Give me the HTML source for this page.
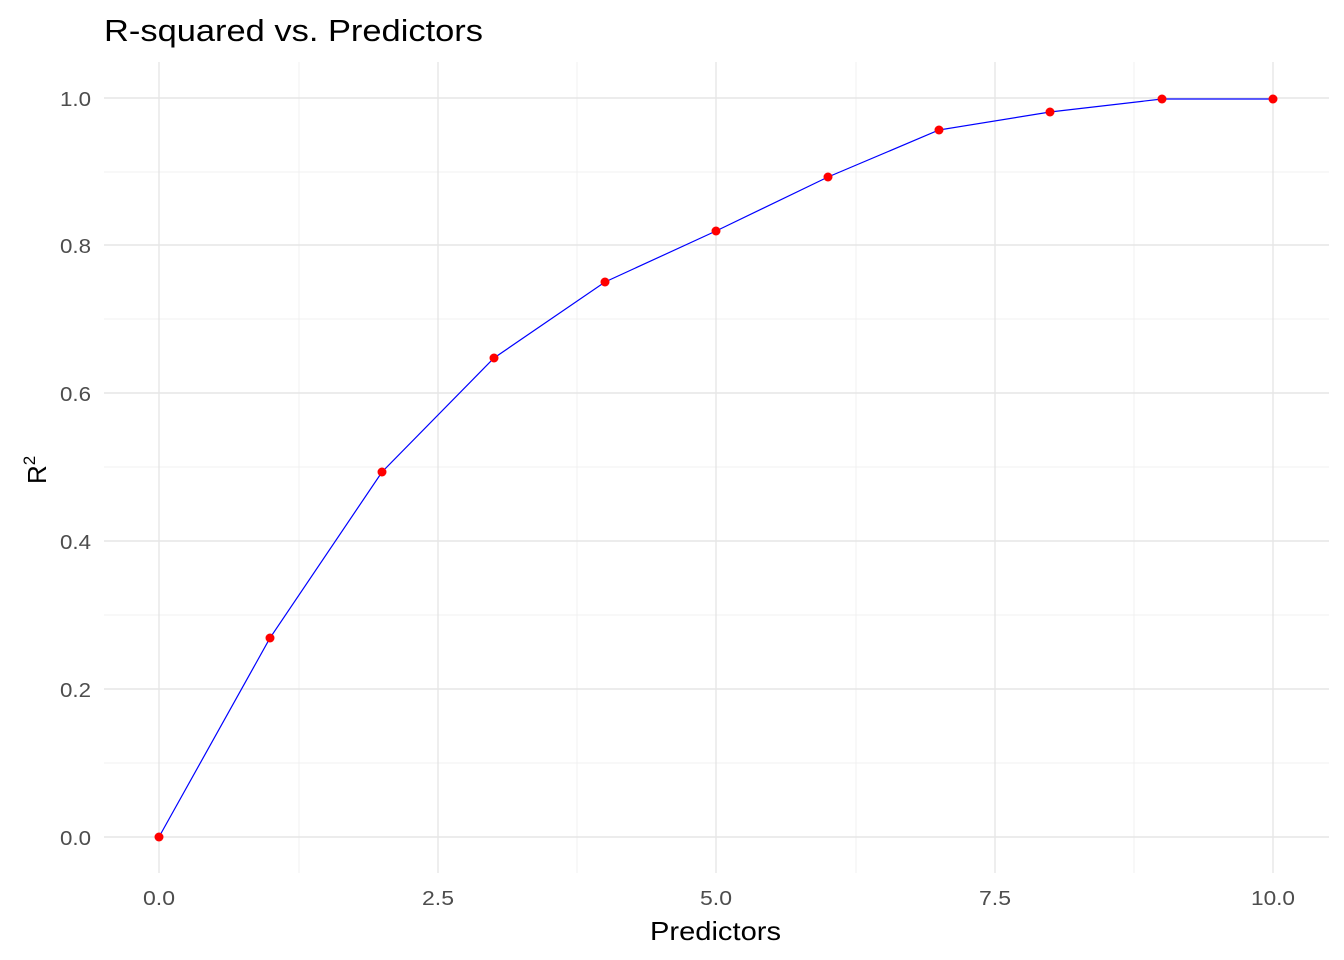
<!DOCTYPE html>
<html><head><meta charset="utf-8"><style>
html,body{margin:0;padding:0;background:#fff;}
svg{display:block;font-family:"Liberation Sans",Arial,sans-serif;}
</style></head><body>
<svg width="1344" height="960" viewBox="0 0 1344 960" xmlns="http://www.w3.org/2000/svg">
<rect width="1344" height="960" fill="#fff"/>
<g stroke="#f0f0f0" stroke-width="1">
<line x1="299" y1="62" x2="299" y2="873"/><line x1="577" y1="62" x2="577" y2="873"/>
<line x1="856" y1="62" x2="856" y2="873"/><line x1="1134" y1="62" x2="1134" y2="873"/>
<line x1="104" y1="763" x2="1329" y2="763"/><line x1="104" y1="615" x2="1329" y2="615"/>
<line x1="104" y1="467" x2="1329" y2="467"/><line x1="104" y1="319" x2="1329" y2="319"/>
<line x1="104" y1="172" x2="1329" y2="172"/>
</g>
<g stroke="#e6e6e6" stroke-width="1.4">
<line x1="159" y1="62" x2="159" y2="873"/><line x1="438" y1="62" x2="438" y2="873"/>
<line x1="716" y1="62" x2="716" y2="873"/><line x1="995" y1="62" x2="995" y2="873"/>
<line x1="1273" y1="62" x2="1273" y2="873"/>
<line x1="104" y1="837" x2="1329" y2="837"/><line x1="104" y1="689" x2="1329" y2="689"/>
<line x1="104" y1="541" x2="1329" y2="541"/><line x1="104" y1="393" x2="1329" y2="393"/>
<line x1="104" y1="245" x2="1329" y2="245"/><line x1="104" y1="98" x2="1329" y2="98"/>
</g>
<polyline fill="none" stroke="#0000ff" stroke-width="1.2" points="159,837 270,638 382,472 494,358 605,282 716,231 828,177 939,130 1050,112 1162,99 1273,99"/>
<g fill="#ff0000">
<circle cx="159" cy="837" r="4.5"/><circle cx="270" cy="638" r="4.5"/><circle cx="382" cy="472" r="4.5"/>
<circle cx="494" cy="358" r="4.5"/><circle cx="605" cy="282" r="4.5"/><circle cx="716" cy="231" r="4.5"/>
<circle cx="828" cy="177" r="4.5"/><circle cx="939" cy="130" r="4.5"/><circle cx="1050" cy="112" r="4.5"/>
<circle cx="1162" cy="99" r="4.5"/><circle cx="1273" cy="99" r="4.5"/>
</g>
<g fill="#4d4d4d" font-size="20">
<text x="60" y="845" textLength="31" lengthAdjust="spacingAndGlyphs">0.0</text>
<text x="60" y="697" textLength="31" lengthAdjust="spacingAndGlyphs">0.2</text>
<text x="60" y="549" textLength="31" lengthAdjust="spacingAndGlyphs">0.4</text>
<text x="60" y="401" textLength="31" lengthAdjust="spacingAndGlyphs">0.6</text>
<text x="60" y="253" textLength="31" lengthAdjust="spacingAndGlyphs">0.8</text>
<text x="60" y="106" textLength="31" lengthAdjust="spacingAndGlyphs">1.0</text>
</g>
<g fill="#4d4d4d" font-size="20">
<text x="143" y="905" textLength="32" lengthAdjust="spacingAndGlyphs">0.0</text>
<text x="422" y="905" textLength="32" lengthAdjust="spacingAndGlyphs">2.5</text>
<text x="700" y="905" textLength="32" lengthAdjust="spacingAndGlyphs">5.0</text>
<text x="979" y="905" textLength="32" lengthAdjust="spacingAndGlyphs">7.5</text>
<text x="1251" y="905" textLength="44" lengthAdjust="spacingAndGlyphs">10.0</text>
</g>
<text x="650" y="940" font-size="26" fill="#000" textLength="131" lengthAdjust="spacingAndGlyphs">Predictors</text>
<text transform="translate(46,484) rotate(-90)" font-size="26" fill="#000">R<tspan font-size="17" dy="-11">2</tspan></text>
<text x="104" y="41" font-size="31" fill="#000" textLength="379" lengthAdjust="spacingAndGlyphs">R-squared vs. Predictors</text>
</svg>
</body></html>
